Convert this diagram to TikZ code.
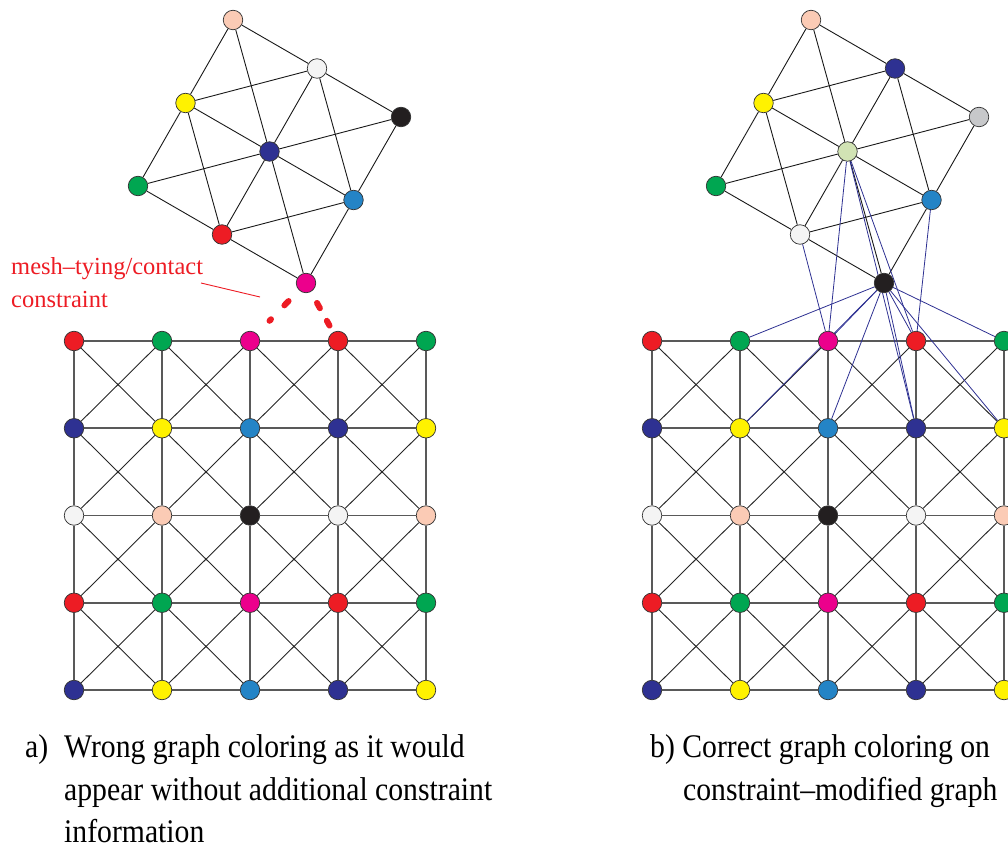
\documentclass[tikz,border=0pt]{standalone}
\usepackage{fontspec}
\setmainfont{Liberation Serif}
\newfontfamily\capfont{Liberation Serif}[FakeStretch=0.9]
\usetikzlibrary{backgrounds}

% vertex colours
\definecolor{cR}{HTML}{ED1C24}
\definecolor{cG}{HTML}{00A651}
\definecolor{cM}{HTML}{EC008C}
\definecolor{cN}{HTML}{2E3192}
\definecolor{cY}{HTML}{FFF200}
\definecolor{cB}{HTML}{2484C6}
\definecolor{cW}{HTML}{F4F4F4}
\definecolor{cP}{HTML}{FBCBB5}
\definecolor{cK}{HTML}{231F20}
\definecolor{cS}{HTML}{C7C8CA}
\definecolor{cL}{HTML}{D1E3B4}

\tikzset{
  vtx/.style={circle, draw=black!80, line width=0.7pt, minimum size=19.5pt, inner sep=0pt},
  gridline/.style={draw=black!65, line width=1.6pt},
  diagline/.style={draw=black!85, line width=0.9pt},
  meshline/.style={draw=black!90, line width=0.9pt},
  tieline/.style={draw=cN, line width=0.8pt},
  constraintline/.style={draw=cR, line width=6pt, line cap=round},
  pointer/.style={draw=cR, line width=0.9pt},
  note/.style={text=cR, font=\fontsize{24.5}{28}\selectfont, anchor=base west, inner sep=0pt},
  caption/.style={font=\capfont\fontsize{33}{40}\selectfont, anchor=base west, inner sep=0pt},
}

% 5x5 structured grid with crossed cells: #1 name prefix, #2 x of first column
\newcommand\flatgrid[2]{%
  \foreach \r/\cl in {0/{cR,cG,cM,cR,cG},1/{cN,cY,cB,cN,cY},2/{cW,cP,cK,cW,cP},3/{cR,cG,cM,cR,cG},4/{cN,cY,cB,cN,cY}}{
    \foreach \c [count=\i from 0] in \cl {
      \node[vtx, fill=\c] (#1\i\r) at ({#2+88*\i},{341+87.25*\r}) {};
    }
  }
  \begin{scope}[on background layer]
    \foreach \i [evaluate=\i as \ii using int(\i+1)] in {0,...,3}{
      \foreach \r in {0,...,4}{
        \draw[gridline] (#1\i\r) -- (#1\ii\r);
        \draw[gridline] (#1\r\i) -- (#1\r\ii);
      }
      \foreach \r [evaluate=\r as \rr using int(\r+1)] in {0,...,3}{
        \draw[diagline] (#1\i\r) -- (#1\ii\rr);
        \draw[diagline] (#1\ii\r) -- (#1\i\rr);
      }
    }
  \end{scope}
}

% rotated 3x3 mesh with crossed cells: #1 name prefix, #2 x of top vertex, #3 colour rows
\newcommand\upmesh[3]{%
  \foreach \a/\cl in #3 {
    \foreach \c [count=\b from 0] in \cl {
      \node[vtx, fill=\c] (#1\a\b) at ({#2+84*\b-47.5*\a},{20+48.5*\b+83*\a}) {};
    }
  }
  \begin{scope}[on background layer]
    \foreach \i [evaluate=\i as \ii using int(\i+1)] in {0,1}{
      \foreach \r in {0,1,2}{
        \draw[meshline] (#1\r\i) -- (#1\r\ii);
        \draw[meshline] (#1\i\r) -- (#1\ii\r);
      }
      \foreach \r [evaluate=\r as \rr using int(\r+1)] in {0,1}{
        \draw[meshline] (#1\i\r) -- (#1\ii\rr);
        \draw[meshline] (#1\ii\r) -- (#1\i\rr);
      }
    }
  \end{scope}
}

\begin{document}
\begin{tikzpicture}[x=1pt, y=-1pt]
  \useasboundingbox (0,0) rectangle (1008,850);

  % ---- a) coloring of the unconnected meshes
  \flatgrid{L}{74}
  \upmesh{P}{233}{{0/{cP,cW,cK},1/{cY,cN,cB},2/{cG,cR,cM}}}

  % mesh-tying constraint of the lowest upper-mesh vertex
  \draw[constraintline, dash pattern=on 6pt off 19.3pt, shorten <=15pt, shorten >=18pt] (P22) -- (L20);
  \draw[constraintline, dash pattern=on 6pt off 14.4pt, shorten <=12.7pt, shorten >=7.5pt] (P22) -- (L30);

  \node[note] (tie1) at (11,274) {mesh–tying/contact};
  \node[note] (tie2) at (11,307) {constraint};
  \coordinate (tiefrom) at (201,283);
  \coordinate (tieto) at (260,297);
  \draw[pointer] (tiefrom) -- (tieto);

  % ---- b) coloring of the constraint-modified graph
  \flatgrid{R}{652}
  \upmesh{Q}{811}{{0/{cP,cN,cS},1/{cY,cL,cB},2/{cG,cW,cK}}}

  \begin{scope}[on background layer]
    \draw[tieline] (Q21) -- (R20);
    \draw[tieline] (Q11) -- (R20);
    \draw[tieline] (Q11) -- (R30);
    \draw[tieline] (Q11) -- (R31);
    \draw[tieline] (Q12) -- (R30);
    \foreach \t in {R10,R20,R30,R40,R11,R21,R31,R41}
      \draw[tieline] (Q22) -- (\t);
  \end{scope}

  % ---- captions
  \node[caption] (capa0) at (25,757) {a)};
  \node[caption] (capa1) at (64,757) {Wrong graph coloring as it would};
  \node[caption] (capa2) at (64,800) {appear without additional constraint};
  \node[caption] (capa3) at (64,842) {information};
  \node[caption] (capb1) at (650,757) {b) Correct graph coloring on};
  \node[caption] (capb2) at (683,800) {constraint–modified graph};
\end{tikzpicture}
\end{document}
